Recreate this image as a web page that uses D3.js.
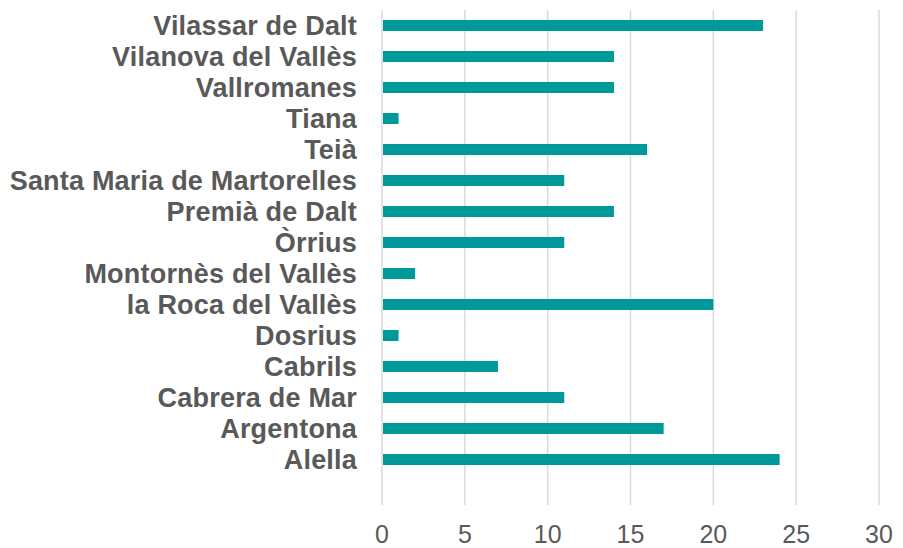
<!DOCTYPE html>
<html>
<head>
<meta charset="utf-8">
<script src="https://cdn.jsdelivr.net/npm/d3@7"></script>
<style>
  html, body { margin: 0; padding: 0; background: #ffffff; }
  svg { display: block; }
</style>
</head>
<body>
<svg id="chart" width="903" height="548"></svg>
<script>
const categories = [
  "Vilassar de Dalt", "Vilanova del Vallès", "Vallromanes", "Tiana", "Teià",
  "Santa Maria de Martorelles", "Premià de Dalt", "Òrrius", "Montornès del Vallès",
  "la Roca del Vallès", "Dosrius", "Cabrils", "Cabrera de Mar", "Argentona", "Alella"
];
const values = [23, 14, 14, 1, 16, 11, 14, 11, 2, 20, 1, 7, 11, 17, 24];
const tickValues = [0, 5, 10, 15, 20, 25, 30];

const svg = d3.select("#chart");
const plotLeft = 382, plotRight = 879, plotTop = 10, plotBottom = 505;

const x = d3.scaleLinear().domain([0, 30]).range([plotLeft, plotRight]);
const y = d3.scaleBand().domain(categories)
  .range([plotTop, plotTop + 31 * categories.length])
  .paddingInner(0.645).paddingOuter(0.3225);

// gridlines
svg.append("g").selectAll("line").data(tickValues).join("line")
  .attr("x1", d => x(d)).attr("x2", d => x(d))
  .attr("y1", plotTop).attr("y2", plotBottom)
  .attr("stroke", "#d9d9d9").attr("stroke-width", 1.5);

// bars
svg.append("g").selectAll("rect").data(values).join("rect")
  .attr("x", x(0) + 1)
  .attr("y", (d, i) => y(categories[i]))
  .attr("width", d => x(d) - x(0) - 1)
  .attr("height", y.bandwidth())
  .attr("fill", "#009999");

// category labels
svg.append("g").selectAll("text").data(categories).join("text")
  .attr("x", 357)
  .attr("y", d => y(d) + y.bandwidth() / 2)
  .attr("dy", "0.36em")
  .attr("text-anchor", "end")
  .attr("font-family", "'Liberation Sans', Arial, sans-serif")
  .attr("font-weight", "bold")
  .attr("font-size", "27px")
  .attr("letter-spacing", "0.2px")
  .attr("fill", "#595959")
  .text(d => d);

// x axis tick labels
svg.append("g").selectAll("text").data(tickValues).join("text")
  .attr("x", d => x(d))
  .attr("y", 542.5)
  .attr("text-anchor", "middle")
  .attr("font-family", "'Liberation Sans', Arial, sans-serif")
  .attr("font-size", "25px")
  .attr("fill", "#595959")
  .text(d => d);
</script>
</body>
</html>
